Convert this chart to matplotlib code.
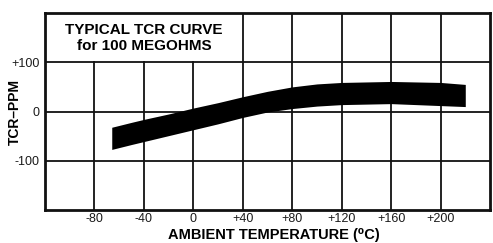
import matplotlib
matplotlib.use("Agg")
import matplotlib.pyplot as plt
from matplotlib.patches import Rectangle

plt.rcParams['font.family'] = ['Liberation Sans', 'DejaVu Sans']

# Data
temp = [-66, -50, -40, -20, 0, 20, 40, 60, 80, 100, 120, 140, 160, 180, 200, 220]
tcr_upper = [-32, -22, -16, -5, 7, 18, 30, 41, 50, 56, 59, 60, 61, 60, 59, 55]
tcr_lower = [-77, -67, -61, -49, -37, -25, -12, -1, 6, 11, 14, 15, 16, 14, 12, 10]

x_ticks = [-80, -40, 0, 40, 80, 120, 160, 200]
x_labels = ["-80", "-40", "0", "+40", "+80", "+120", "+160", "+200"]
y_ticks = [-100, 0, 100]
y_labels = ["-100", "0", "+100"]

title_lines = "TYPICAL TCR CURVE\nfor 100 MEGOHMS"
xlabel = "AMBIENT TEMPERATURE (\u2070C)"
ylabel = "TCR\u2013PPM"

fig = plt.figure(figsize=(4.93, 2.43), dpi=100)
ax = fig.add_axes([45/493, 1-210/243, 445/493, 197/243])
ax.set_xlim(-120, 240)
ax.set_ylim(-200, 200)

ax.set_xticks(x_ticks)
ax.set_xticklabels(x_labels, fontsize=9, color='#1a1a1a')
ax.set_yticks(y_ticks)
ax.set_yticklabels(y_labels, fontsize=9, color='#1a1a1a')
ax.tick_params(axis='x', length=0, pad=2)
ax.tick_params(axis='y', length=0, pad=4)
ax.grid(True, color='#111111', linewidth=1.3)
ax.set_axisbelow(True)
for s in ax.spines.values():
    s.set_linewidth(2.0)
    s.set_color('#111111')
    s.set_zorder(5)

# white box behind title
ax.add_patch(Rectangle((-120, 103), 157, 97, facecolor='white', edgecolor='none', zorder=1))
ax.text(-40, 150, title_lines, ha='center', va='center', fontsize=11,
        fontweight='bold', linespacing=1.2, zorder=3)

ax.fill_between(temp, tcr_lower, tcr_upper, color='black', linewidth=0, zorder=2)

fig.text(274/493, 1-235/243, xlabel, ha='center', va='center', fontsize=10.5, fontweight='bold')
fig.text(15/493, 1-112/243, ylabel, ha='center', va='center', fontsize=10,
         fontweight='bold', rotation=90)

fig.savefig("out.png", dpi=100)
